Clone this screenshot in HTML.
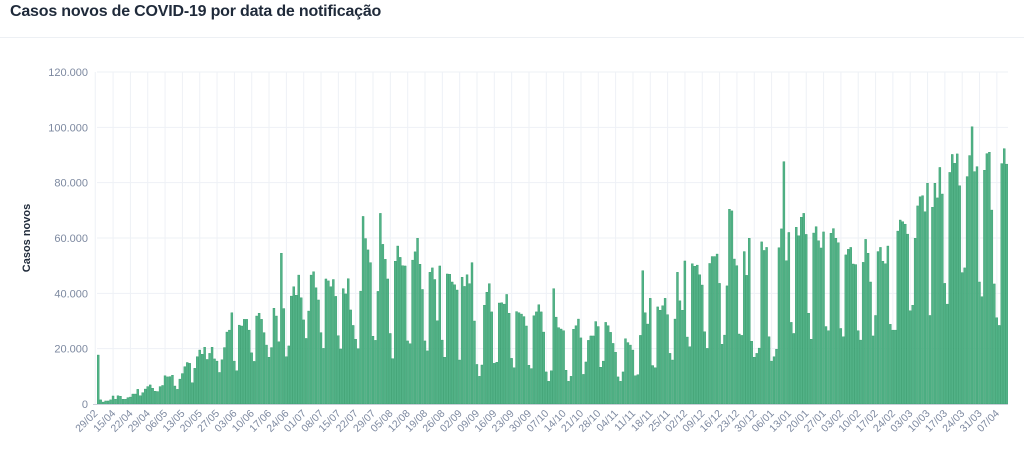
<!DOCTYPE html>
<html><head><meta charset="utf-8">
<style>
body{margin:0;background:#fff;font-family:"Liberation Sans",sans-serif;}
#wrap{position:relative;width:1024px;height:451px;overflow:hidden;}
h1{position:absolute;left:10px;top:3px;margin:0;font-size:16px;font-weight:bold;color:#1f2a3a;letter-spacing:-0.2px;}
#sep{position:absolute;left:0;top:37px;width:1024px;height:1px;background:#edf0f4;}
</style></head><body>
<div id="wrap">
<h1>Casos novos de COVID-19 por data de notificação</h1>
<div id="sep"></div>
<svg id="chart" width="1024" height="451" style="position:absolute;left:0;top:0"></svg>
</div>
<script>
const values=[17.7,1.5,0.7,1.1,1.1,1.5,2.9,1.7,3,2.8,1.7,1.7,2.3,2.5,3.6,3.6,5.3,3,4.1,5.4,6.3,6.9,5.7,4.6,4.5,6.3,6.7,10.2,9.8,9.9,10.4,6.5,5.3,9,11,13.5,15,14.7,7.7,12.9,17.1,19.5,18,20.5,16.1,
18.3,20.5,16.3,15.5,11.4,16,20.4,26,26.7,33,15.5,12,28.5,28.2,30.6,30.6,26.7,18.5,15.4,31.8,32.8,30.6,25.8,21.3,16.9,20.4,34.6,31.8,22.5,54.5,34.5,17.1,21,39,42.4,39.3,46.6,38.4,30.4,23.7,33.6,46.6,47.8,42,37.6,25.8,20.1,
45.2,44.5,42.4,45,38.9,24.7,19.9,41.7,39.8,45.3,34,28.4,23.4,20,40.8,67.8,59.8,55.7,51.1,24.5,23,40.7,68.9,57.7,52.3,45.2,25.5,16.4,51.6,57.1,53,50,49.9,22.8,21.8,52,55,59.9,50.5,41.4,22.8,19.2,47.6,49.2,45,30.1,
49.9,23.1,16.9,47,46.9,44.1,43.1,41.2,15.9,45.8,42.5,46.7,43.5,51.1,30,14.3,10,14.1,35.7,40.4,43.5,33.3,14.7,15.1,36.5,36.6,36.1,39.6,32.8,16.5,13.1,33.4,33,32.5,31.6,28.2,14,12.8,31.9,33.3,35.9,33.3,26,11.6,8.2,12,41.7,
31.4,27.6,27.1,26.5,12.2,8.2,10,27,28.3,30.7,23.9,10.7,15.2,23,24.6,24.6,29.8,28,13.3,15.5,29.5,28.3,25.9,21.9,18.7,9.8,8.2,11.6,23.6,22.2,21.3,19.5,10.2,10.6,24.8,48.2,33,28.9,38.2,13.9,13.1,35.1,33.9,35.5,38.2,32.3,
18.3,15.9,30.7,47.6,37.3,33.9,51.7,24.2,20.7,50.7,49.8,50.2,46.7,43,26.1,20.1,50.8,53.3,53.3,54.2,43.6,21.6,24.9,42.7,70.4,69.8,52.4,50,25.3,24.8,55.1,46.5,59.9,22.7,16.9,18.3,20.2,58.6,55.5,56.6,24.3,15.5,17.1,19.8,56.5,63.3,87.6,
51.8,62,29.5,25.5,63.9,60.8,67.5,68.9,61.3,32.8,23.4,61.8,64.1,59,56.4,62.2,28,26.5,61.7,63.4,59.9,58.3,27.3,24.3,53.9,55.9,56.6,50.6,50.4,26.5,23.1,51.2,59.5,54.5,44.1,24.6,32,55.1,56.6,51.6,50.7,57.1,28.8,26.7,
26.7,62.5,66.5,65.9,65,61.4,33.7,35.7,59.9,71.6,74.9,75.3,69.5,79.8,32,71.1,79.8,74.5,85.5,75.9,43.6,36.1,83.7,90.2,87,90.4,78.9,47.5,49.2,82.2,89.8,100.2,84,85.8,44.1,38.8,84.5,90.5,91,70.1,43.4,31.2,28.4,86.9,92.3,86.7];
const tickLabels=["29/02","15/04","22/04","29/04","06/05","13/05","20/05","27/05","03/06","10/06","17/06","24/06","01/07","08/07","15/07","22/07","29/07","05/08","12/08","19/08","26/08","02/09","09/09","16/09","23/09","30/09","07/10","14/10","21/10","28/10","04/11","11/11","18/11","25/11","02/12","09/12","16/12","23/12","30/12","06/01","13/01","20/01","27/01","03/02","10/02","17/02","24/02","03/03","10/03","17/03","24/03","31/03","07/04"];
const yTicks=[0,20,40,60,80,100,120];
const yTickLabels=["0","20.000","40.000","60.000","80.000","100.000","120.000"];

const NS="http://www.w3.org/2000/svg";
const svg=document.getElementById('chart');
const X0=97,X1=1008,Y0=404,Y1=72,YMAX=120;
const band=(X1-X0)/values.length;
const xPos=i=>X0+i*band;
const yPos=v=>Y0-(v/YMAX)*(Y0-Y1);
function mk(tag,attrs){const e=document.createElementNS(NS,tag);for(const k in attrs)e.setAttribute(k,attrs[k]);svg.appendChild(e);return e;}

yTicks.forEach((t,i)=>{
  const g=mk('line',{x1:X0,x2:X1,y1:yPos(t),y2:yPos(t),stroke:'#eef1f6','stroke-width':1});
  
  
  const tx=mk('text',{x:88,y:yPos(t)+4,'text-anchor':'end','font-size':11,fill:'#7d89a0','font-family':'Liberation Sans, sans-serif'});
  tx.textContent=yTickLabels[i];
  
  
});
const tickIdx=tickLabels.map((l,m)=>m===0?0:6+7*(m-1));
tickLabels.forEach((l,m)=>{
  const cx=xPos(tickIdx[m])+band/2-(m===0?3:0);
  const g=mk('line',{x1:cx,x2:cx,y1:Y1,y2:Y0,stroke:'#eef1f6','stroke-width':1});
  
  
  const tx=mk('text',{x:cx+3,y:Y0+10,'text-anchor':'end','font-size':10.5,fill:'#7d89a0','font-family':'Liberation Sans, sans-serif',transform:`rotate(-45 ${cx+3} ${Y0+10})`});
  tx.textContent=l;
  
  
});
values.forEach((v,i)=>{
  const r=mk('rect',{x:xPos(i)+0.2,y:yPos(v),width:band-0.5,height:Y0-yPos(v),fill:'#52b287',stroke:'#2f9a68','stroke-width':0.4});
  
  
});
const ax=mk('line',{x1:X0-4,x2:X1,y1:Y0+0.5,y2:Y0+0.5,stroke:'#c9cfd8','stroke-width':1});


const yt=mk('text',{x:30,y:238,'text-anchor':'middle','font-size':11,'font-weight':'bold',fill:'#1f2a3a','font-family':'Liberation Sans, sans-serif',transform:'rotate(-90 30 238)'});
yt.textContent='Casos novos';


</script>
</body></html>
